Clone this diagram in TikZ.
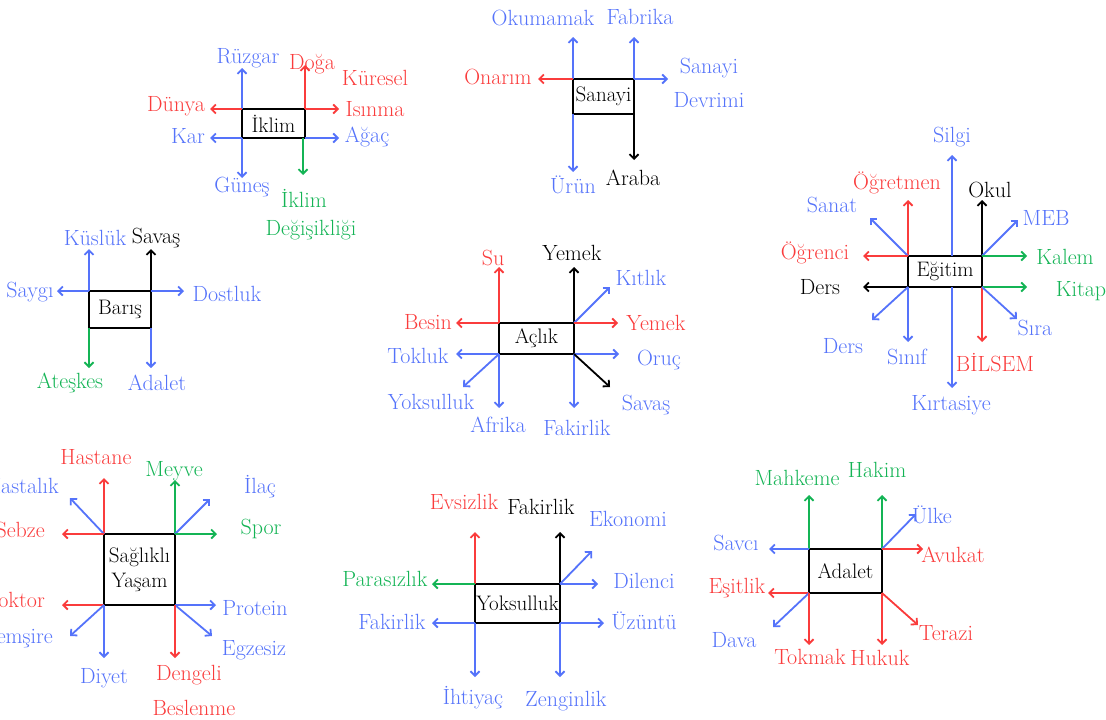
\documentclass[tikz,border=0pt]{standalone}
\usepackage{fontspec}
\usetikzlibrary{arrows.meta,calc}
\definecolor{cb}{RGB}{85,115,250}
\definecolor{cr}{RGB}{250,60,60}
\definecolor{cg}{RGB}{20,180,85}
\definecolor{ck}{RGB}{0,0,0}
\newcommand\arw[4]{\coordinate (#3) at #4; \draw[conn,#1] (#2) -- (#3);}
\tikzset{
  conn/.style={line width=1.8pt,-{Straight Barb[length=4.5pt,width=9pt]}},
  box/.style={draw=black,line width=1.8pt,fill=white,inner sep=0pt,outer sep=0pt,align=center,font=\fontsize{21}{25}\selectfont},
  lb/.style={inner sep=0pt,font=\fontsize{22}{26}\selectfont},
  B/.style={draw=cb},R/.style={draw=cr},G/.style={draw=cg},K/.style={draw=ck},
  tb/.style={lb,text=cb},tr/.style={lb,text=cr},tg/.style={lb,text=cg},tk/.style={lb,text=ck}
}
\begin{document}
\begin{tikzpicture}[x=1pt,y=-1pt]
\useasboundingbox (0,0) rectangle (1106,720);
% ---------- Iklim
\node[box,minimum width=63,minimum height=29] (ik) at (273.5,123.5) {İklim};
\arw{B}{ik.north west}{ik1}{(242,68)}
\arw{B}{ik.south west}{ik2}{(242,178)}
\arw{R}{ik.north east}{ik3}{(305,65)}
\arw{R}{ik.north west}{ik4}{(210,109)}
\arw{R}{ik.north east}{ik5}{(339,109)}
\arw{B}{ik.south west}{ik6}{(210,138)}
\arw{B}{ik.south east}{ik7}{(339,138)}
\coordinate (ik8s) at ($(ik.south east)+(-2,0)$);
\arw{G}{ik8s}{ik8}{(303,175)}
\node[tb] (l-ruz) at (248,58) {Rüzgar};
\node[tr] (l-dog) at (312,64) {Doğa};
\node[tr] (l-kur) at (375,78) {Küresel};
\node[tr] (l-isi) at (375,109) {Isınma};
\node[tr] (l-dun) at (176,106) {Dünya};
\node[tb] (l-kar) at (188,136) {Kar};
\node[tb] (l-aga) at (367,137) {Ağaç};
\node[tb] (l-gun) at (242,187) {Güneş};
\node[tg] (l-ikl) at (304,198) {İklim};
\node[tg] (l-deg) at (311,230) {Değişikliği};
% ---------- Sanayi
\node[box,minimum width=61,minimum height=35] (sa) at (603.5,96.5) {Sanayi};
\arw{B}{sa.north west}{sa1}{(573,37)}
\arw{B}{sa.south west}{sa2}{(573,172)}
\arw{B}{sa.north east}{sa3}{(634,37)}
\arw{B}{sa.north east}{sa4}{(668,79)}
\arw{R}{sa.north west}{sa5}{(538,79)}
\arw{K}{sa.south east}{sa6}{(634,160)}
\node[tb] at (543,18) {Okumamak};
\node[tb] at (640,17) {Fabrika};
\node[tb] at (709,68) {Sanayi};
\node[tb] at (709,100) {Devrimi};
\node[tr] at (498,77) {Onarım};
\node[tb] at (573,185) {Ürün};
\node[tk] at (633,178) {Araba};
% ---------- Egitim
\node[box,minimum width=74,minimum height=31] (eg) at (945,271.5) {Eğitim};
\coordinate (eg0n) at ($(eg.north)+(7,0)$);
\coordinate (eg0s) at ($(eg.south)+(7,0)$);
\arw{B}{eg0n}{eg1}{(952,155)}
\arw{B}{eg0s}{eg2}{(952,388)}
\arw{R}{eg.north west}{eg3}{(908,200)}
\arw{K}{eg.north east}{eg4}{(982,200)}
\arw{B}{eg.north west}{eg5}{(870,218)}
\arw{B}{eg.north east}{eg6}{(1018,220)}
\arw{R}{eg.north west}{eg7}{(863,256)}
\arw{G}{eg.north east}{eg8}{(1027,256)}
\arw{K}{eg.south west}{eg9}{(863,287)}
\arw{G}{eg.south east}{eg10}{(1027,287)}
\arw{B}{eg.south west}{eg11}{(872,320)}
\arw{B}{eg.south west}{eg12}{(908,342)}
\arw{R}{eg.south east}{eg13}{(982,342)}
\arw{B}{eg.south east}{eg14}{(1017,319)}
\node[tb] at (952,137) {Silgi};
\node[tr] at (897,183) {Öğretmen};
\node[tk] at (990,190) {Okul};
\node[tb] at (832,205) {Sanat};
\node[tb] at (1046,218) {MEB};
\node[tr] at (815,253) {Öğrenci};
\node[tg] at (1065,257) {Kalem};
\node[tk] at (820,287) {Ders};
\node[tg] at (1081,291) {Kitap};
\node[tb] at (843,346) {Ders};
\node[tb] at (907,357) {Sınıf};
\node[tr] at (995,363) {BİLSEM};
\node[tb] at (1035,328) {Sıra};
\node[tb] at (951,405) {Kırtasiye};
% ---------- Baris
\node[box,minimum width=62,minimum height=37] (ba) at (120,309.5) {Barış};
\arw{B}{ba.north west}{ba1}{(89,249)}
\arw{K}{ba.north east}{ba2}{(151,249)}
\arw{B}{ba.north west}{ba3}{(57,291)}
\arw{B}{ba.north east}{ba4}{(184,291)}
\arw{G}{ba.south west}{ba5}{(89,368)}
\arw{B}{ba.south east}{ba6}{(151,368)}
\node[tb] at (95,238) {Küslük};
\node[tk] at (156,238) {Savaş};
\node[tb] at (30,292) {Saygı};
\node[tb] at (227,294) {Dostluk};
\node[tg] at (70,383) {Ateşkes};
\node[tb] at (157,383) {Adalet};
% ---------- Aclik
\node[box,minimum width=75,minimum height=31] (ac) at (536.5,338.5) {Açlık};
\arw{R}{ac.north west}{ac1}{(499,267)}
\arw{K}{ac.north east}{ac2}{(574,267)}
\arw{B}{ac.north east}{ac3}{(610,287)}
\arw{R}{ac.north west}{ac4}{(456,323)}
\arw{R}{ac.north east}{ac5}{(618,323)}
\arw{B}{ac.south west}{ac6}{(456,354)}
\arw{B}{ac.south east}{ac7}{(619,354)}
\arw{B}{ac.south west}{ac8}{(463,387)}
\arw{B}{ac.south west}{ac9}{(499,408)}
\arw{B}{ac.south east}{ac10}{(574,408)}
\arw{K}{ac.south east}{ac11}{(610,387)}
\node[tr] at (493,258) {Su};
\node[tk] at (572,253) {Yemek};
\node[tb] at (641,278) {Kıtlık};
\node[tr] at (428,322) {Besin};
\node[tr] at (656,323) {Yemek};
\node[tb] at (418,356) {Tokluk};
\node[tb] at (659,360) {Oruç};
\node[tb] at (431,402) {Yoksulluk};
\node[tb] at (498,425) {Afrika};
\node[tb] at (577,428) {Fakirlik};
\node[tb] at (646,405) {Savaş};
% ---------- Saglikli Yasam
\node[box,minimum width=71,minimum height=71] (sy) at (139.5,569.5) {Sağlıklı\\Yaşam};
\arw{R}{sy.north west}{sy1}{(104,478)}
\arw{B}{sy.north west}{sy2}{(70,498)}
\arw{R}{sy.north west}{sy3}{(62,534)}
\arw{G}{sy.north east}{sy4}{(175,480)}
\arw{B}{sy.north east}{sy5}{(210,499)}
\arw{G}{sy.north east}{sy6}{(217,534)}
\arw{R}{sy.south west}{sy7}{(62,605)}
\arw{B}{sy.south west}{sy8}{(70,636)}
\arw{B}{sy.south west}{sy9}{(104,658)}
\arw{B}{sy.south east}{sy10}{(216,605)}
\arw{B}{sy.south east}{sy11}{(212,636)}
\arw{R}{sy.south east}{sy12}{(175,658)}
\node[tr] at (96,457) {Hastane};
\node[tb,anchor=east] at (59,486) {Hastalık};
\node[tr,anchor=east] at (45,530) {Sebze};
\node[tg] at (174,471) {Meyve};
\node[tb] at (260,487) {İlaç};
\node[tg] at (261,529) {Spor};
\node[tr,anchor=east] at (45,600) {Doktor};
\node[tb,anchor=east] at (53,638) {Hemşire};
\node[tb] at (255,608) {Protein};
\node[tb] at (254,650) {Egzesiz};
\node[tb] at (104,678) {Diyet};
\node[tr] at (189,675) {Dengeli};
\node[tr] at (194,708) {Beslenme};
% ---------- Yoksulluk
\node[box,minimum width=85,minimum height=39] (yo) at (517.5,603.5) {Yoksulluk};
\arw{R}{yo.north west}{yo1}{(475,532)}
\arw{K}{yo.north east}{yo2}{(560,532)}
\arw{B}{yo.north east}{yo3}{(592,551)}
\arw{G}{yo.north west}{yo4}{(432,584)}
\arw{B}{yo.north east}{yo5}{(598,584)}
\arw{B}{yo.south west}{yo6}{(432,623)}
\arw{B}{yo.south east}{yo7}{(604,623)}
\arw{B}{yo.south west}{yo8}{(475,677)}
\arw{B}{yo.south east}{yo9}{(560,677)}
\node[tr] at (464,502) {Evsizlik};
\node[tk] at (541,507) {Fakirlik};
\node[tb] at (628,519) {Ekonomi};
\node[tg] at (385,579) {Parasızlık};
\node[tb] at (644,581) {Dilenci};
\node[tb] at (392,622) {Fakirlik};
\node[tb] at (644,621) {Üzüntü};
\node[tb] at (473,698) {İhtiyaç};
\node[tb] at (566,701) {Zenginlik};
% ---------- Adalet
\node[box,minimum width=73,minimum height=44] (ad) at (845.5,571) {Adalet};
\arw{G}{ad.north west}{ad1}{(809,495)}
\arw{G}{ad.north east}{ad2}{(882,495)}
\arw{B}{ad.north east}{ad3}{(916,514)}
\arw{B}{ad.north west}{ad4}{(769,549)}
\arw{R}{ad.north east}{ad5}{(923,549)}
\arw{R}{ad.south west}{ad6}{(768,593)}
\arw{B}{ad.south west}{ad7}{(773,627)}
\arw{R}{ad.south west}{ad8}{(809,645)}
\arw{R}{ad.south east}{ad9}{(882,645)}
\arw{R}{ad.south east}{ad10}{(918,625)}
\node[tg] at (797,478) {Mahkeme};
\node[tg] at (877,470) {Hakim};
\node[tb] at (932,515) {Ülke};
\node[tb] at (736,543) {Savcı};
\node[tr] at (953,555) {Avukat};
\node[tr] at (737,588) {Eşitlik};
\node[tb] at (734,640) {Dava};
\node[tr] at (946,633) {Terazi};
\node[tr] at (810,657) {Tokmak};
\node[tr] at (880,658) {Hukuk};
\end{tikzpicture}
\end{document}
